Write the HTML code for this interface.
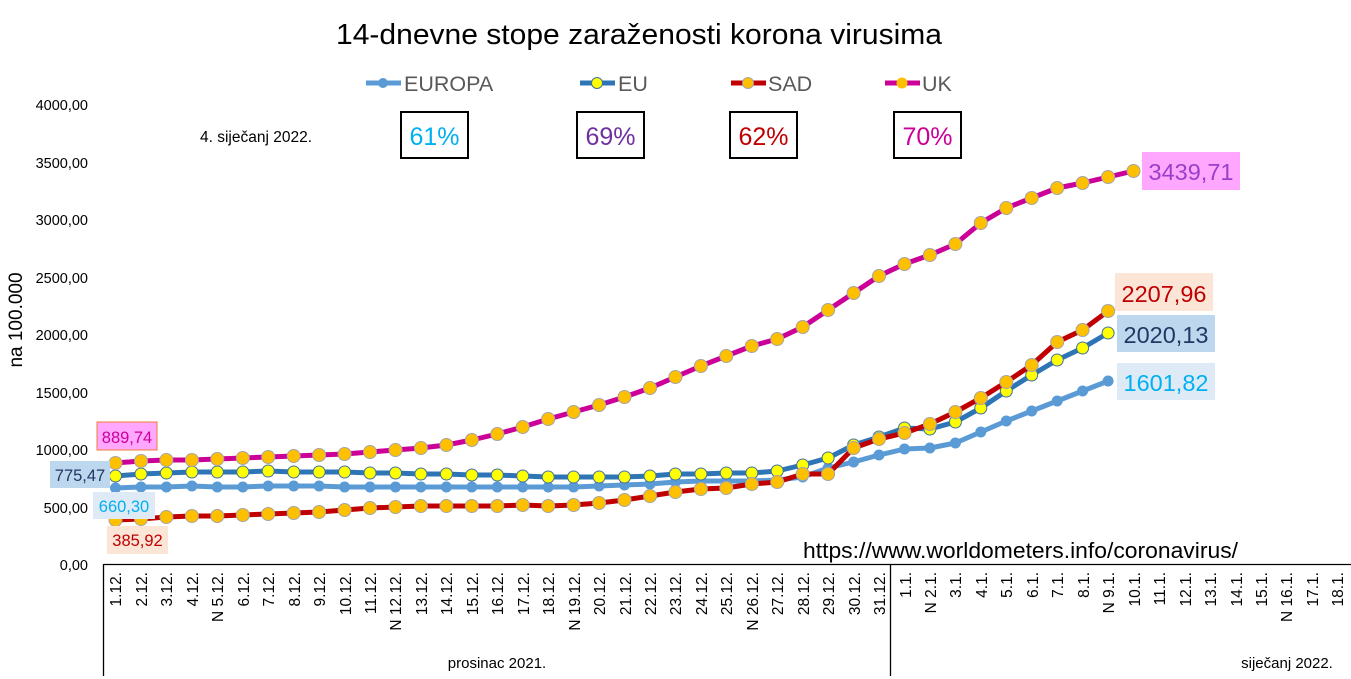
<!DOCTYPE html>
<html><head><meta charset="utf-8"><style>
body{margin:0;background:#fff;}
svg{display:block;font-family:"Liberation Sans",sans-serif;}
</style></head><body>
<svg width="1351" height="679" viewBox="0 0 1351 679" xmlns="http://www.w3.org/2000/svg">
<defs>
<marker id="mE" markerUnits="userSpaceOnUse" markerWidth="14" markerHeight="14" refX="7" refY="7"><circle cx="7" cy="7" r="5.5" fill="#5b9bd5"/></marker>
<marker id="mU" markerUnits="userSpaceOnUse" markerWidth="16" markerHeight="16" refX="8" refY="8"><circle cx="8" cy="8" r="6" fill="#ffff00" stroke="#41719c" stroke-width="1"/></marker>
<marker id="mO" markerUnits="userSpaceOnUse" markerWidth="16" markerHeight="16" refX="8" refY="8"><circle cx="8" cy="8" r="6.5" fill="#ffc000" stroke="#a5a5a5" stroke-width="1"/></marker>
</defs>
<text x="639" y="44" font-size="29" text-anchor="middle" font-family="Liberation Sans, sans-serif" textLength="606" lengthAdjust="spacingAndGlyphs">14-dnevne stope zaraženosti korona virusima</text>
<!-- legend -->
<g font-size="21.5" fill="#595959">
<line x1="366" y1="83" x2="401" y2="83" stroke="#5b9bd5" stroke-width="5"/><circle cx="383" cy="83" r="5" fill="#5b9bd5"/><text x="404" y="91">EUROPA</text>
<line x1="580" y1="83" x2="615" y2="83" stroke="#2e75b6" stroke-width="5"/><circle cx="597" cy="83" r="5.5" fill="#ff0" stroke="#41719c"/><text x="618" y="91">EU</text>
<line x1="731" y1="83" x2="766" y2="83" stroke="#c00000" stroke-width="5"/><circle cx="748" cy="83" r="5.5" fill="#ffc000" stroke="#a5a5a5"/><text x="768" y="91">SAD</text>
<line x1="885" y1="83" x2="920" y2="83" stroke="#cc0099" stroke-width="5"/><circle cx="902" cy="83" r="5.5" fill="#ffc000"/><text x="922" y="91">UK</text>
</g>
<text x="200" y="142" font-size="15.5">4. siječanj 2022.</text>
<g font-size="25" text-anchor="middle" stroke-width="2">
<rect x="401" y="112" width="67" height="46" fill="#fff" stroke="#000"/><text x="434.5" y="145" fill="#00b0f0" stroke="none">61%</text>
<rect x="577" y="112" width="67" height="46" fill="#fff" stroke="#000"/><text x="610.5" y="145" fill="#7030a0" stroke="none">69%</text>
<rect x="730" y="112" width="67" height="46" fill="#fff" stroke="#000"/><text x="763.5" y="145" fill="#c00000" stroke="none">62%</text>
<rect x="894" y="112" width="67" height="46" fill="#fff" stroke="#000"/><text x="927.5" y="145" fill="#cc0099" stroke="none">70%</text>
</g>
<!-- y axis labels -->
<g font-size="14.5" text-anchor="end">
<text x="88" y="570">0,00</text>
<text x="88" y="513">500,00</text>
<text x="88" y="455">1000,00</text>
<text x="88" y="398">1500,00</text>
<text x="88" y="340">2000,00</text>
<text x="88" y="283">2500,00</text>
<text x="88" y="225">3000,00</text>
<text x="88" y="168">3500,00</text>
<text x="88" y="110">4000,00</text>
</g>
<text transform="translate(22,320) rotate(-90)" font-size="19" text-anchor="middle">na 100.000</text>
<!-- axes -->
<line x1="103.5" y1="564.5" x2="1351" y2="564.5" stroke="#000" stroke-width="1.3"/>
<line x1="103.5" y1="564" x2="103.5" y2="676" stroke="#000" stroke-width="1.3"/>
<line x1="890.5" y1="564" x2="890.5" y2="676" stroke="#000" stroke-width="1.3"/>
<text x="803" y="558" font-size="22" textLength="435" lengthAdjust="spacingAndGlyphs">https://www.worldometers.info/coronavirus/</text>
<!-- x labels -->
<g font-size="15.5" text-anchor="end">
<text transform="translate(121,572) rotate(-90)">1.12.</text>
<text transform="translate(147,572) rotate(-90)">2.12.</text>
<text transform="translate(172,572) rotate(-90)">3.12.</text>
<text transform="translate(198,572) rotate(-90)">4.12.</text>
<text transform="translate(223,572) rotate(-90)">N 5.12.</text>
<text transform="translate(249,572) rotate(-90)">6.12.</text>
<text transform="translate(274,572) rotate(-90)">7.12.</text>
<text transform="translate(300,572) rotate(-90)">8.12.</text>
<text transform="translate(325,572) rotate(-90)">9.12.</text>
<text transform="translate(351,572) rotate(-90)">10.12.</text>
<text transform="translate(376,572) rotate(-90)">11.12.</text>
<text transform="translate(401,572) rotate(-90)">N 12.12.</text>
<text transform="translate(427,572) rotate(-90)">13.12.</text>
<text transform="translate(452,572) rotate(-90)">14.12.</text>
<text transform="translate(478,572) rotate(-90)">15.12.</text>
<text transform="translate(503,572) rotate(-90)">16.12.</text>
<text transform="translate(529,572) rotate(-90)">17.12.</text>
<text transform="translate(554,572) rotate(-90)">18.12.</text>
<text transform="translate(580,572) rotate(-90)">N 19.12.</text>
<text transform="translate(605,572) rotate(-90)">20.12.</text>
<text transform="translate(631,572) rotate(-90)">21.12.</text>
<text transform="translate(656,572) rotate(-90)">22.12.</text>
<text transform="translate(681,572) rotate(-90)">23.12.</text>
<text transform="translate(707,572) rotate(-90)">24.12.</text>
<text transform="translate(732,572) rotate(-90)">25.12.</text>
<text transform="translate(758,572) rotate(-90)">N 26.12.</text>
<text transform="translate(783,572) rotate(-90)">27.12.</text>
<text transform="translate(809,572) rotate(-90)">28.12.</text>
<text transform="translate(834,572) rotate(-90)">29.12.</text>
<text transform="translate(860,572) rotate(-90)">30.12.</text>
<text transform="translate(885,572) rotate(-90)">31.12.</text>
<text transform="translate(911,572) rotate(-90)">1.1.</text>
<text transform="translate(936,572) rotate(-90)">N 2.1.</text>
<text transform="translate(961,572) rotate(-90)">3.1.</text>
<text transform="translate(987,572) rotate(-90)">4.1.</text>
<text transform="translate(1012,572) rotate(-90)">5.1.</text>
<text transform="translate(1038,572) rotate(-90)">6.1.</text>
<text transform="translate(1063,572) rotate(-90)">7.1.</text>
<text transform="translate(1089,572) rotate(-90)">8.1.</text>
<text transform="translate(1114,572) rotate(-90)">N 9.1.</text>
<text transform="translate(1140,572) rotate(-90)">10.1.</text>
<text transform="translate(1165,572) rotate(-90)">11.1.</text>
<text transform="translate(1191,572) rotate(-90)">12.1.</text>
<text transform="translate(1216,572) rotate(-90)">13.1.</text>
<text transform="translate(1242,572) rotate(-90)">14.1.</text>
<text transform="translate(1267,572) rotate(-90)">15.1.</text>
<text transform="translate(1292,572) rotate(-90)">N 16.1.</text>
<text transform="translate(1318,572) rotate(-90)">17.1.</text>
<text transform="translate(1343,572) rotate(-90)">18.1.</text>
</g>
<text x="497" y="668" font-size="15" text-anchor="middle">prosinac 2021.</text>
<text x="1287" y="668" font-size="15" text-anchor="middle">siječanj 2022.</text>
<!-- series -->
<polyline fill="none" stroke="#5b9bd5" stroke-width="5" stroke-linejoin="round" marker-start="url(#mE)" marker-mid="url(#mE)" marker-end="url(#mE)" points="115.5,488 141,487 166.4,487 191.9,486 217.3,487 242.8,487 268.2,486 293.7,486 319.1,486 344.6,487 370,487 395.5,487 420.9,487 446.4,487 471.8,487 497.3,487 522.7,487 548.2,487 573.6,487 599.1,486 624.5,485 650,484 675.4,482 700.9,481 726.3,481 751.8,481 777.2,480 802.7,477 828.1,468 853.6,462 879,455 904.5,449 929.9,448 955.4,443 980.8,432 1006.3,421 1031.7,411 1057.2,401 1082.6,391 1108.1,381"/>
<polyline fill="none" stroke="#2e75b6" stroke-width="5" stroke-linejoin="round" marker-start="url(#mU)" marker-mid="url(#mU)" marker-end="url(#mU)" points="115.5,476 141,474 166.4,473 191.9,472 217.3,472 242.8,472 268.2,471 293.7,472 319.1,472 344.6,472 370,473 395.5,473 420.9,474 446.4,474 471.8,475 497.3,475 522.7,476 548.2,477 573.6,477 599.1,477 624.5,477 650,476 675.4,474 700.9,474 726.3,473 751.8,473 777.2,471 802.7,465 828.1,458 853.6,445 879,437 904.5,428 929.9,429 955.4,422 980.8,408 1006.3,391 1031.7,375 1057.2,360 1082.6,348 1108.1,333"/>
<polyline fill="none" stroke="#c00000" stroke-width="5" stroke-linejoin="round" marker-start="url(#mO)" marker-mid="url(#mO)" marker-end="url(#mO)" points="115.5,520 141,519 166.4,517 191.9,516 217.3,516 242.8,515 268.2,514 293.7,513 319.1,512 344.6,510 370,508 395.5,507 420.9,506 446.4,506 471.8,506 497.3,506 522.7,505 548.2,506 573.6,505 599.1,503 624.5,500 650,496 675.4,492 700.9,489 726.3,488 751.8,484 777.2,482 802.7,474 828.1,474 853.6,448 879,439 904.5,433 929.9,424 955.4,412 980.8,398 1006.3,382 1031.7,365 1057.2,342 1082.6,330 1108.1,311"/>
<polyline fill="none" stroke="#cc0099" stroke-width="5" stroke-linejoin="round" marker-start="url(#mO)" marker-mid="url(#mO)" marker-end="url(#mO)" points="115.5,463 141,461 166.4,460 191.9,460 217.3,459 242.8,458 268.2,457 293.7,456 319.1,455 344.6,454 370,452 395.5,450 420.9,448 446.4,445 471.8,440 497.3,434 522.7,427 548.2,419 573.6,412 599.1,405 624.5,397 650,388 675.4,377 700.9,366 726.3,356 751.8,346 777.2,339 802.7,327 828.1,310 853.6,293 879,276 904.5,264 929.9,255 955.4,244 980.8,223 1006.3,208 1031.7,198 1057.2,188 1082.6,183 1108.1,177 1133.5,171"/>
<!-- data labels -->
<g font-size="20">
<rect x="97" y="422" width="60" height="28" fill="#ffa6ff" stroke="#ed7d31" stroke-width="1"/><text x="127" y="443" font-size="16.5" text-anchor="middle" fill="#cc0099">889,74</text>
<rect x="50" y="461" width="60" height="27" fill="#bdd7ee"/><text x="80" y="481" font-size="16.5" text-anchor="middle" fill="#1f3864">775,47</text>
<rect x="93" y="492" width="62" height="27" fill="#deebf7"/><text x="124" y="512" font-size="16.5" text-anchor="middle" fill="#00b0f0">660,30</text>
<rect x="107" y="526" width="61" height="28" fill="#fbe5d6"/><text x="137.5" y="546" font-size="16.5" text-anchor="middle" fill="#c00000">385,92</text>
<rect x="1142" y="152" width="98" height="38" fill="#ffa6ff"/><text x="1191" y="180" font-size="23.5" text-anchor="middle" fill="#9a40c8">3439,71</text>
<rect x="1115" y="273" width="98" height="38" fill="#fbe5d6"/><text x="1164" y="302" font-size="23.5" text-anchor="middle" fill="#c00000">2207,96</text>
<rect x="1117" y="315" width="98" height="37" fill="#bdd7ee"/><text x="1166" y="343" font-size="23.5" text-anchor="middle" fill="#1f3864">2020,13</text>
<rect x="1117" y="363" width="98" height="37" fill="#deebf7"/><text x="1166" y="391" font-size="23.5" text-anchor="middle" fill="#00b0f0">1601,82</text>
</g>
</svg>
</body></html>
